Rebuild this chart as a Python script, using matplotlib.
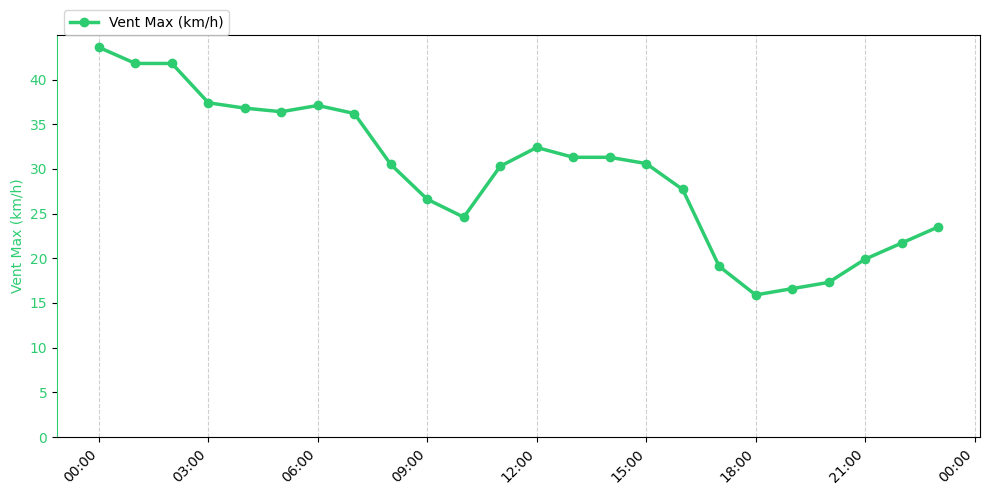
import matplotlib
matplotlib.use("Agg")
import matplotlib.pyplot as plt
import matplotlib.dates as mdates
import pandas as pd

hours = pd.date_range("2024-01-01 00:00", periods=24, freq="h")
vent_max = [43.6, 41.8, 41.8, 37.4, 36.8, 36.4, 37.1, 36.2, 30.5, 26.6, 24.6, 30.3,
            32.4, 31.3, 31.3, 30.6, 27.7, 19.1, 15.9, 16.6, 17.3, 19.9, 21.7, 23.5]
label = "Vent Max (km/h)"
color = "#2ecc71"

fig, ax = plt.subplots(figsize=(9.89, 4.94), dpi=100)
fig.subplots_adjust(left=57/989, right=980/989, top=1-35/494, bottom=1-437/494)
ax.plot(hours, vent_max, color=color, linewidth=2.5, marker="o", markersize=6, label=label)
ax.set_ylabel(label, color=color)
ax.tick_params(axis="y", labelcolor=color)
ax.spines["left"].set_color(color)
ax.set_ylim(0, None)
ax.xaxis.set_major_locator(mdates.HourLocator(interval=3))
ax.xaxis.set_major_formatter(mdates.DateFormatter("%H:%M"))
plt.setp(ax.get_xticklabels(), rotation=45, ha="right")
ax.grid(True, axis="x", linestyle="--", alpha=0.6)
ax.legend(loc="lower left", bbox_to_anchor=(0.008, 1.0), borderaxespad=0)
fig.savefig("out.png", dpi=100)
